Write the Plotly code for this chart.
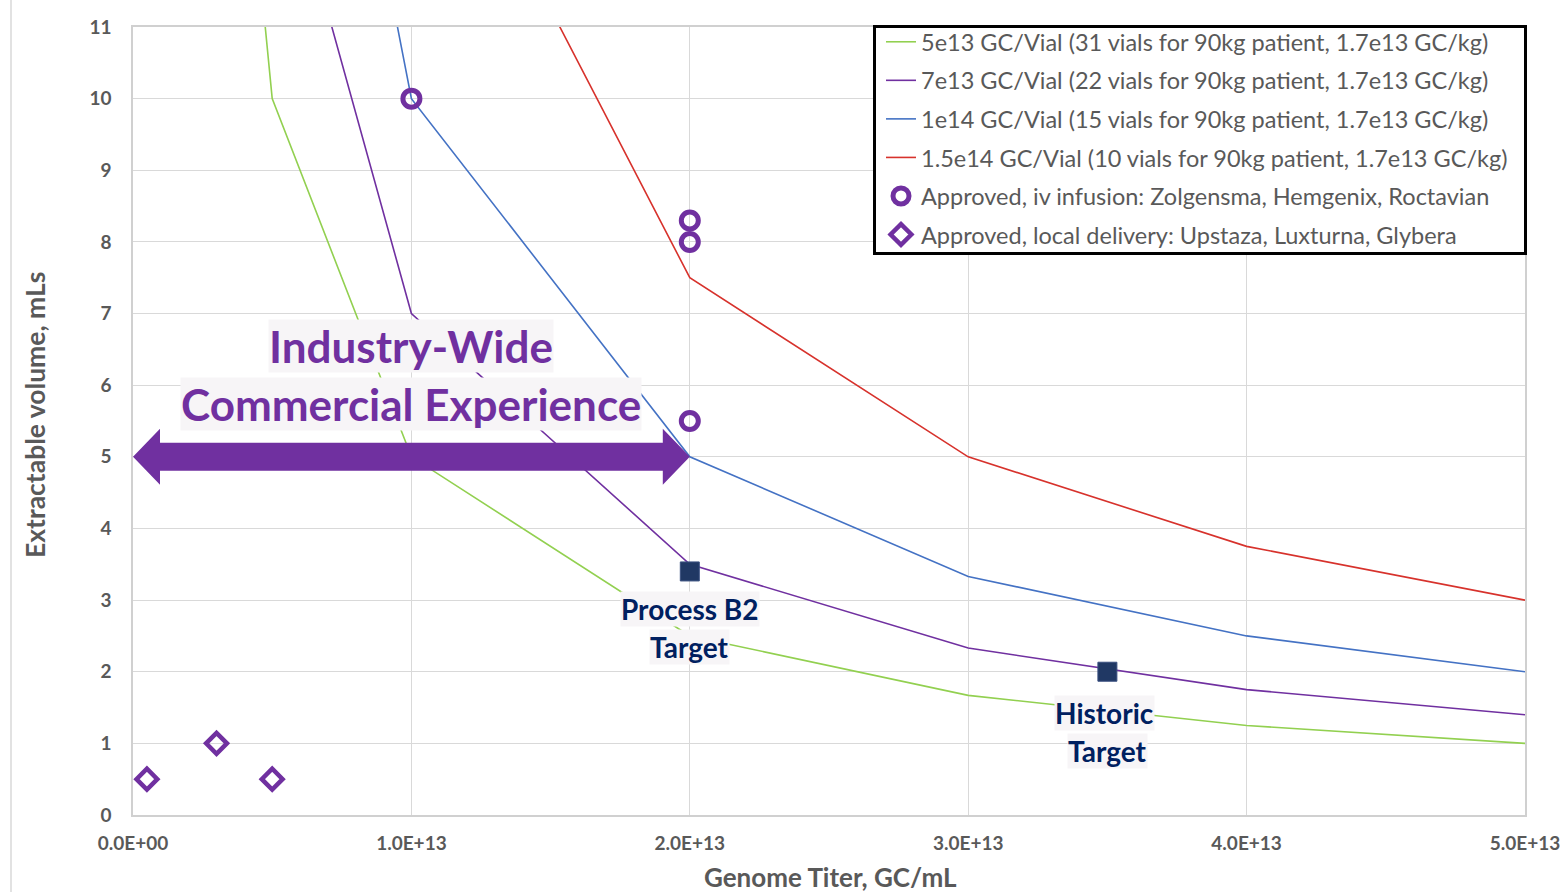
import plotly.graph_objects as go

# Genome titer (GC/mL) and the extractable volume needed per vial
titer = [0.25e13, 0.5e13, 1e13, 2e13, 3e13, 4e13, 5e13]
vol_5e13 = [20.0, 10.0, 5.0, 2.5, 1.67, 1.25, 1.0]
vol_7e13 = [28.0, 14.0, 7.0, 3.5, 2.33, 1.75, 1.4]
vol_1e14 = [40.0, 20.0, 10.0, 5.0, 3.33, 2.5, 2.0]
vol_15e14 = [60.0, 30.0, 15.0, 7.5, 5.0, 3.75, 3.0]

series_names = [
    "5e13 GC/Vial (31 vials for 90kg patient, 1.7e13 GC/kg)",
    "7e13 GC/Vial (22 vials for 90kg patient, 1.7e13 GC/kg)",
    "1e14 GC/Vial (15 vials for 90kg patient, 1.7e13 GC/kg)",
    "1.5e14 GC/Vial (10 vials for 90kg patient, 1.7e13 GC/kg)",
]
series_values = [vol_5e13, vol_7e13, vol_1e14, vol_15e14]
series_colors = ["#92D050", "#7030A0", "#4472C4", "#D7322C"]

# Approved products
iv_titer = [1e13, 2e13, 2e13, 2e13]
iv_volume = [10.0, 8.3, 8.0, 5.5]
local_titer = [0.05e13, 0.3e13, 0.5e13]
local_volume = [0.5, 1.0, 0.5]

# Targets
target_titer = [2e13, 3.5e13]
target_volume = [3.4, 2.0]

# Commercial experience range
exp_start, exp_end, exp_volume = 0.0, 2e13, 5.0

x_tickvals = [0, 1e13, 2e13, 3e13, 4e13, 5e13]
x_ticktext = ["0.0E+00", "1.0E+13", "2.0E+13", "3.0E+13", "4.0E+13", "5.0E+13"]
y_tickvals = list(range(0, 12))

X_RANGE = [0, 5e13]
Y_RANGE = [0, 11]

W, H = 1565, 892
M_L, M_R, M_T, M_B = 133, 40, 27, 77
PLOT_W = W - M_L - M_R
PLOT_H = H - M_T - M_B
DX = (X_RANGE[1] - X_RANGE[0]) / PLOT_W   # data units per pixel
DY = (Y_RANGE[1] - Y_RANGE[0]) / PLOT_H


def px_x(p):
    """paper x for a page pixel column"""
    return (p - M_L) / PLOT_W


def px_y(p):
    """paper y for a page pixel row"""
    return (H - M_B - p) / PLOT_H


FONT = "Lato"
PURPLE = "#7030A0"
NAVY = "#002060"
GREY = "#595959"

fig = go.Figure()

for name, vals, col in zip(series_names, series_values, series_colors):
    fig.add_trace(go.Scatter(
        x=titer, y=vals, mode="lines", name=name,
        line=dict(color=col, width=1.6), legendgroup=name,
    ))

# Double-headed arrow as a filled polygon
hl, hh, bh = 27 * DX, 28 * DY, 14 * DY
ax = [exp_start, exp_start + hl, exp_start + hl, exp_end - hl, exp_end - hl, exp_end,
      exp_end - hl, exp_end - hl, exp_start + hl, exp_start + hl, exp_start]
ay = [exp_volume, exp_volume + hh, exp_volume + bh, exp_volume + bh, exp_volume + hh, exp_volume,
      exp_volume - hh, exp_volume - bh, exp_volume - bh, exp_volume - hh, exp_volume]
fig.add_trace(go.Scatter(
    x=ax, y=ay, mode="lines", fill="toself", fillcolor=PURPLE,
    line=dict(color=PURPLE, width=0), showlegend=False, hoverinfo="skip",
))

fig.add_trace(go.Scatter(
    x=iv_titer, y=iv_volume, mode="markers",
    name="Approved, iv infusion: Zolgensma, Hemgenix, Roctavian",
    legendgroup="iv",
    marker=dict(symbol="circle", size=17, color="rgba(0,0,0,0)", line=dict(width=5, color=PURPLE)),
))
fig.add_trace(go.Scatter(
    x=local_titer, y=local_volume, mode="markers",
    name="Approved, local delivery: Upstaza, Luxturna, Glybera",
    legendgroup="local",
    marker=dict(symbol="diamond", size=16, color="rgba(0,0,0,0)", line=dict(width=4.5, color=PURPLE)),
))
fig.add_trace(go.Scatter(
    x=target_titer, y=target_volume, mode="markers", showlegend=False,
    marker=dict(symbol="square", size=19, color="#203864", line=dict(width=1, color="#3A5080")),
))

label_bg = "#F7F5F7"
annotations = [
    dict(x=1e13, y=(815 - 346) * DY, text="Industry-Wide", font=dict(family=FONT, size=44, color=PURPLE)),
    dict(x=1e13, y=(815 - 404) * DY, text="Commercial Experience", font=dict(family=FONT, size=44, color=PURPLE)),
    dict(x=target_titer[0], y=(815 - 609) * DY, text="Process B2", font=dict(family=FONT, size=28, color=NAVY)),
    dict(x=target_titer[0], y=(815 - 647) * DY, text="Target", font=dict(family=FONT, size=28, color=NAVY)),
    dict(x=target_titer[1] - 0.01e13, y=(815 - 713) * DY, text="Historic", font=dict(family=FONT, size=28, color=NAVY)),
    dict(x=target_titer[1], y=(815 - 751) * DY, text="Target", font=dict(family=FONT, size=28, color=NAVY)),
]
for a in annotations:
    a["text"] = "<b>" + a["text"] + "</b>"
    a.update(xref="x", yref="y", showarrow=False, bgcolor=label_bg, borderpad=0)

# axis titles
annotations.append(dict(
    xref="paper", yref="paper", x=px_x(35), y=px_y(415),
    xanchor="center", yanchor="middle",
    text="<b>Extractable volume, mLs</b>", textangle=-90, showarrow=False,
    font=dict(family=FONT, size=26.5, color=GREY),
))
annotations.append(dict(
    xref="paper", yref="paper", x=px_x(830), y=px_y(877),
    xanchor="center", yanchor="middle",
    text="<b>Genome Titer, GC/mL</b>", showarrow=False,
    font=dict(family=FONT, size=26, color=GREY),
))

shapes = [
    # thin rule at the left edge of the page
    dict(type="line", xref="paper", yref="paper",
         x0=px_x(11), x1=px_x(11), y0=px_y(H), y1=px_y(0),
         line=dict(color="#D9D9D9", width=1.5)),
    # legend frame
    dict(type="rect", xref="paper", yref="paper", layer="above",
         x0=px_x(874.5), x1=px_x(1525.5), y0=px_y(253.5), y1=px_y(26.5),
         fillcolor="white", line=dict(color="black", width=3)),
]

fig.update_layout(
    width=W, height=H,
    margin=dict(l=M_L, r=M_R, t=M_T, b=M_B),
    paper_bgcolor="white", plot_bgcolor="white",
    font=dict(family=FONT, color=GREY),
    annotations=annotations,
    shapes=shapes,
    legend=dict(
        x=px_x(881), y=px_y(20), xanchor="left", yanchor="top",
        bgcolor="rgba(0,0,0,0)", borderwidth=0,
        font=dict(family=FONT, size=23.5, color=GREY),
        traceorder="grouped", tracegroupgap=5,
    ),
)

fig.update_xaxes(
    range=X_RANGE, tickvals=x_tickvals, ticktext=[f"<b>{t}</b>" for t in x_ticktext],
    showgrid=True, gridcolor="#D9D9D9", gridwidth=1,
    showline=True, linecolor="#D0D0D0", linewidth=1.5, mirror=True,
    zeroline=False, ticks="", ticklabelstandoff=10, automargin=False,
    tickfont=dict(family=FONT, size=19, color=GREY),
)
fig.update_yaxes(
    range=Y_RANGE, tickvals=y_tickvals, ticktext=[f"<b>{v}</b>" for v in y_tickvals],
    showgrid=True, gridcolor="#D9D9D9", gridwidth=1,
    showline=True, linecolor="#D0D0D0", linewidth=1.5, mirror=True,
    zeroline=False, ticks="", ticklabelstandoff=16, automargin=False,
    tickfont=dict(family=FONT, size=19, color=GREY),
)

fig.write_html("out.html")
